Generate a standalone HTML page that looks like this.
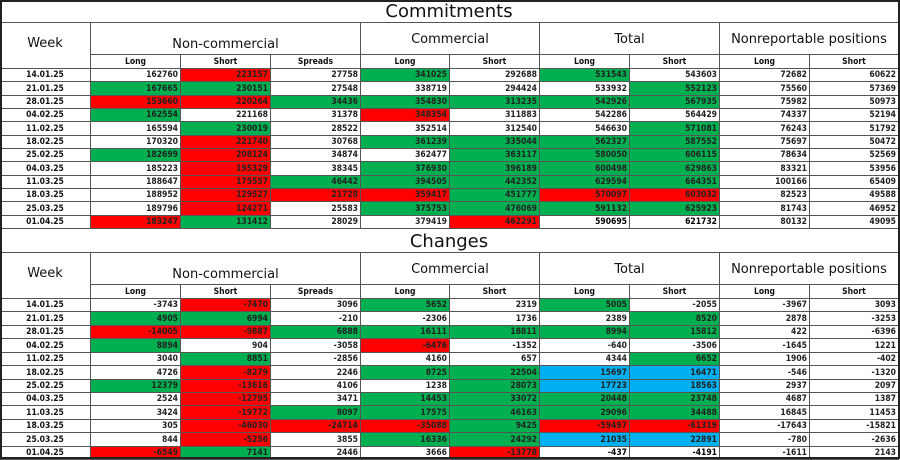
<!DOCTYPE html>
<html><head><meta charset="utf-8"><style>
body{margin:0;width:900px;height:459px;background:#fff;overflow:hidden;font-family:"DejaVu Sans","Liberation Sans",sans-serif;}
#root{position:relative;width:900px;height:459px;}
.c{position:absolute;box-sizing:border-box;border-right:1px solid #555;border-bottom:1px solid #555;color:#111;white-space:nowrap;overflow:hidden;}
.num{text-align:right;padding-right:2px;font-size:8.5px;font-weight:bold;font-family:"DejaVu Sans Condensed","DejaVu Sans",sans-serif;color:#222;}
.wk{text-align:center;font-size:8.5px;font-weight:bold;font-family:"DejaVu Sans Condensed","DejaVu Sans",sans-serif;}
.sub{text-align:center;font-size:8.5px;font-weight:bold;font-family:"DejaVu Sans Condensed","DejaVu Sans",sans-serif;}
.grp{text-align:center;font-size:13px;}
.ttl{text-align:center;font-size:18px;}
</style></head><body>
<div id="root"></div>
<script>
const weeks=["14.01.25","21.01.25","28.01.25","04.02.25","11.02.25","18.02.25","25.02.25","04.03.25","11.03.25","18.03.25","25.03.25","01.04.25"];
const commitValues=[
[162760,223157,27758,341025,292688,531543,543603,72682,60622],
[167665,230151,27548,338719,294424,533932,552123,75560,57369],
[153660,220264,34436,354830,313235,542926,567935,75982,50973],
[162554,221168,31378,348354,311883,542286,564429,74337,52194],
[165594,230019,28522,352514,312540,546630,571081,76243,51792],
[170320,221740,30768,361239,335044,562327,587552,75697,50472],
[182699,208124,34874,362477,363117,580050,606115,78634,52569],
[185223,195329,38345,376930,396189,600498,629863,83321,53956],
[188647,175557,46442,394505,442352,629594,664351,100166,65409],
[188952,129527,21728,359417,451777,570097,603032,82523,49588],
[189796,124271,25583,375753,476069,591132,625923,81743,46952],
[183247,131412,28029,379419,462291,590695,621732,80132,49095]];
const commitColors=["wrwgwgwww","ggwwwwgww","rrgggggww","gwwrwwwww","wgwwwwgww","wrwggggww","grwwgggww","wrwggggww","wrgggggww","wrrrgrrww","wrwggggww","rgwwrwwww"];
const changeValues=[
[-3743,-7470,3096,5652,2319,5005,-2055,-3967,3093],
[4905,6994,-210,-2306,1736,2389,8520,2878,-3253],
[-14005,-9887,6888,16111,18811,8994,15812,422,-6396],
[8894,904,-3058,-6476,-1352,-640,-3506,-1645,1221],
[3040,8851,-2856,4160,657,4344,6652,1906,-402],
[4726,-8279,2246,8725,22504,15697,16471,-546,-1320],
[12379,-13616,4106,1238,28073,17723,18563,2937,2097],
[2524,-12795,3471,14453,33072,20448,23748,4687,1387],
[3424,-19772,8097,17575,46163,29096,34488,16845,11453],
[305,-46030,-24714,-35088,9425,-59497,-61319,-17643,-15821],
[844,-5256,3855,16336,24292,21035,22891,-780,-2636],
[-6549,7141,2446,3666,-13778,-437,-4191,-1611,2143]];
const changeColors=["wrwgwgwww","ggwwwwgww","rrgggggww","gwwrwwwww","wgwwwwgww","wrwggbbww","grwwgbbww","wrwggggww","wrgggggww","wrrrgrrww","wrwggbbww","rgwwrwwww"];
const subLabels=["Long","Short","Spreads","Long","Short","Long","Short","Long","Short"];
const colX=[0,91,181,271,361,450,540,630,720,810,899];
const palette={w:"#ffffff",g:"#00b050",r:"#ff0000",b:"#00b0f0"};
const root=document.getElementById('root');
function cell(x,y,w,h,cls,txt,bg){
  const d=document.createElement('div');
  d.className='c '+cls;
  d.style.left=x+'px';d.style.top=y+'px';d.style.width=w+'px';d.style.height=h+'px';
  d.style.lineHeight=h+'px';
  if(bg)d.style.background=bg;
  d.textContent=txt;
  root.appendChild(d);
  return d;
}
function section(y0,title,vals,cols,prefix){
  let t=cell(0,y0,899,23,'ttl',title);
  
  
  let w=cell(0,y0+23,91,46,'grp','Week');
  w.style.lineHeight='42px';
  
  
  const groups=[["Non-commercial",1,4],["Commercial",4,6],["Total",6,8],["Nonreportable positions",8,10]];
  groups.forEach(g=>{
    let e=cell(colX[g[1]],y0+23,colX[g[2]]-colX[g[1]],32,'grp',g[0]);
    if(g[0]==="Non-commercial"){e.style.lineHeight='44px';}else{e.style.lineHeight='34px';}
    
    
  });
  subLabels.forEach((s,i)=>{
    let e=cell(colX[i+1],y0+55,colX[i+2]-colX[i+1],14,'sub',s);
    
    
  });
  const rowH=(y0===0?160:161)/12;
  weeks.forEach((wk,r)=>{
    const y=Math.round(y0+69+r*rowH), y2=Math.round(y0+69+(r+1)*rowH);
    let e=cell(0,y,91,y2-y,'wk',wk);
    
    
    vals[r].forEach((v,i)=>{
      const code=cols[r][i];
      let c=cell(colX[i+1],y,colX[i+2]-colX[i+1],y2-y,'num',String(v),palette[code]||'#fff');
      if(r===11&&(i===5||i===6))c.style.color='#000';
      
      
    });
  });
}
section(0,"Commitments",commitValues,commitColors,'commitments');
section(230,"Changes",changeValues,changeColors,'changes');
const frame=document.createElement('div');
frame.style.cssText='position:absolute;left:0;top:0;width:900px;height:459px;box-sizing:border-box;border:2px solid #222;pointer-events:none;';


root.appendChild(frame);
</script>
</body></html>
